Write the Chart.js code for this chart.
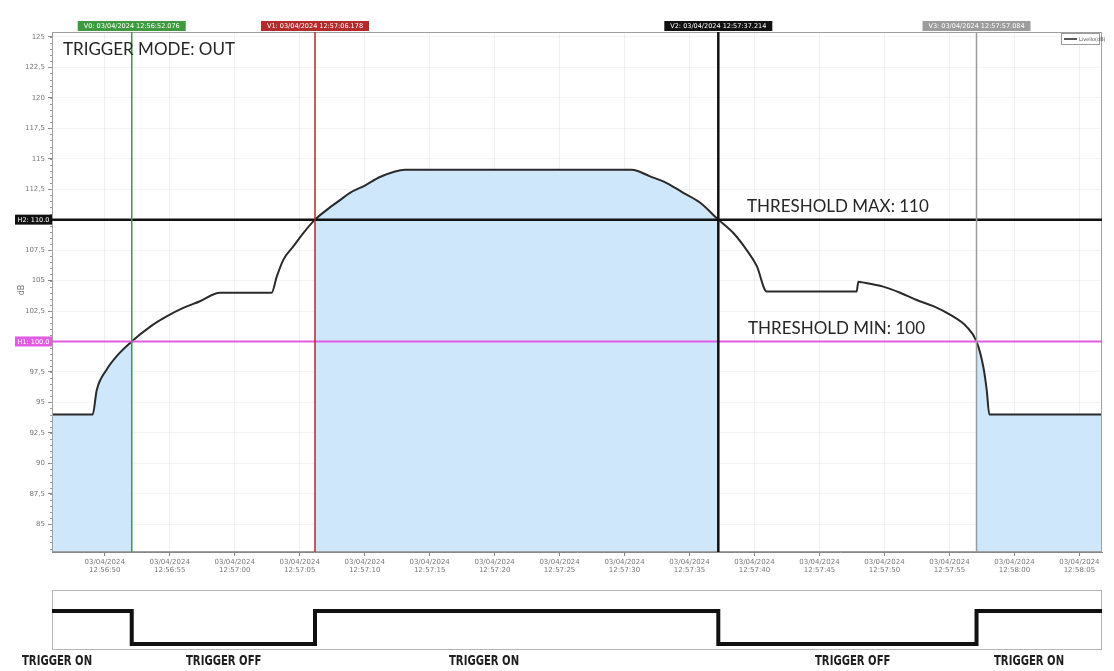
<!DOCTYPE html>
<html><head><meta charset="utf-8">
<script src="https://cdn.jsdelivr.net/npm/chart.js@4.4.1/dist/chart.umd.min.js"></script>
<style>
html,body{margin:0;padding:0;background:#fff;width:1114px;height:671px;overflow:hidden}
canvas{position:absolute;left:0}
#main{top:0}
#trig{top:585px}
</style></head><body>
<canvas id="main" width="1114" height="585"></canvas>
<canvas id="trig" width="1114" height="86"></canvas>
<script>
// ---------- data ----------
const dateLabel = '03/04/2024';
const xTickSeconds = [0,5,10,15,20,25,30,35,40,45,50,55,60,65,70,75];
const xTickTimes = ['12:56:50','12:56:55','12:57:00','12:57:05','12:57:10','12:57:15','12:57:20','12:57:25','12:57:30','12:57:35','12:57:40','12:57:45','12:57:50','12:57:55','12:58:00','12:58:05'];
const yTickValues = [85,87.5,90,92.5,95,97.5,102.5,105,107.5,112.5,115,117.5,120,122.5,125];
const xRange = [-4.06, 76.74];
const yRange = [82.72, 125.4];

const curveTime  = [-4.06,-0.93,-0.62,0.15,0.92,2.076,3.48,4.76,6.04,7.33,8.86,12.84,13.23,13.74,14.51,15.28,16.178,17.08,18.1,18.87,20.02,21.18,23.1,40.55,41.96,43.24,44.52,45.8,47.214,48.37,49.4,50.17,50.94,57.86,57.99,58.3,59.91,61.2,62.48,63.76,65.04,66.33,67.084,67.61,67.87,68.07,76.74];
const curveLevel = [94,94,96,97.7,98.8,100,101.2,102.05,102.75,103.3,104,104,105.3,106.7,107.8,108.9,110,110.8,111.6,112.2,112.8,113.5,114.1,114.1,113.55,113,112.2,111.4,110,108.9,107.5,106.2,104.1,104.1,104.9,104.85,104.5,104,103.4,102.9,102.2,101.2,100,97.9,96,94,94];

const cursorNames  = ['V0','V1','V2','V3'];
const cursorTimes  = [2.076,16.178,47.214,67.084];
const cursorStamps = ['12:56:52.076','12:57:06.178','12:57:37.214','12:57:57.084'];

const thresholdNames  = ['H2','H1'];
const thresholdValues = [110,100];
const thresholdTexts  = ['THRESHOLD MAX: 110','THRESHOLD MIN: 100'];

const triggerTimes  = [-4.06,2.076,16.178,47.214,67.084,76.74];
const triggerStates = [1,0,1,0,1,1];
const triggerLabels = ['TRIGGER ON','TRIGGER OFF','TRIGGER ON','TRIGGER OFF','TRIGGER ON'];
const seriesName = 'Livello(dB)';

// ---------- styles ----------
const cursorColors = ['#3f9a3f','#b32b2b','#111111','#9c9c9c'];
const cursorWidths = [1.5,1.5,2.5,1.5];
const thresholdColors = ['#111111','#e25be2'];
const thresholdWidths = [2.5,2];
const fillColor = 'rgb(206,231,250)';
const triggerLabelLeft = [22,186,449,815,994];

// ---------- build ----------
const curvePts = curveTime.map((t,i)=>({x:t,y:curveLevel[i]}));
const onIntervals = [];
for (let i=0;i<triggerTimes.length-1;i++) if (triggerStates[i]===1) onIntervals.push([triggerTimes[i],triggerTimes[i+1]]);
const fillSets = onIntervals.map(([a,b])=>({
  data: curvePts.filter(p=>p.x>=a-1e-9 && p.x<=b+1e-9),
  borderWidth:0, borderColor:'rgba(0,0,0,0)', backgroundColor:fillColor,
  fill:'start', pointRadius:0, cubicInterpolationMode:'monotone', order:2
}));

function fmt(v){ return String(v).replace('.',','); }

const overlay = {
  id:'overlay',
  afterDatasetsDraw(chart){
    const {ctx, chartArea:a, scales:{x,y}} = chart;
    ctx.save();
    ctx.strokeStyle='#a0a0a0'; ctx.lineWidth=1;
    ctx.strokeRect(a.left+0.5,a.top+0.5,a.right-a.left-1,a.bottom-a.top-1);
    ctx.strokeStyle='#999'; ctx.lineWidth=1;
    for (let v=Math.ceil(yRange[0]*2)/2; v<=yRange[1]; v+=0.5){
      const py=Math.round(y.getPixelForValue(v))+0.5;
      ctx.beginPath(); ctx.moveTo(a.left-2,py); ctx.lineTo(a.left,py); ctx.stroke();
    }
    thresholdValues.forEach((v,i)=>{
      const py=y.getPixelForValue(v);
      ctx.strokeStyle=thresholdColors[i]; ctx.lineWidth=thresholdWidths[i];
      ctx.beginPath(); ctx.moveTo(a.left,py); ctx.lineTo(a.right,py); ctx.stroke();
      ctx.fillStyle=thresholdColors[i];
      ctx.fillRect(15,py-5,37,10);
      ctx.fillStyle='#fff'; ctx.font='6.5px "DejaVu Sans"'; ctx.textAlign='center'; ctx.textBaseline='middle';
      ctx.fillText(thresholdNames[i]+': '+v.toFixed(1),33.5,py+0.5);
    });
    cursorTimes.forEach((t,i)=>{
      const px=x.getPixelForValue(t);
      ctx.strokeStyle=cursorColors[i]; ctx.lineWidth=cursorWidths[i];
      ctx.beginPath(); ctx.moveTo(px,a.top); ctx.lineTo(px,a.bottom); ctx.stroke();
      ctx.fillStyle=cursorColors[i];
      ctx.fillRect(px-54,21,108,10);
      ctx.fillStyle='#fff'; ctx.font='6.5px "DejaVu Sans"'; ctx.textAlign='center'; ctx.textBaseline='middle';
      ctx.fillText(cursorNames[i]+': '+dateLabel+' '+cursorStamps[i],px,26.5);
    });
    ctx.fillStyle='#262626'; ctx.textAlign='left'; ctx.textBaseline='alphabetic';
    ctx.font='17px Lato';
    ctx.fillText('TRIGGER MODE: OUT',63,55);
    ctx.fillText(thresholdTexts[0],747,212);
    ctx.fillText(thresholdTexts[1],748,334);
    ctx.fillStyle='#fff'; ctx.fillRect(1061,33,39,12);
    ctx.strokeStyle='#999'; ctx.lineWidth=1; ctx.strokeRect(1061.5,33.5,38,11);
    ctx.strokeStyle='#222'; ctx.lineWidth=1.5;
    ctx.beginPath(); ctx.moveTo(1064,39); ctx.lineTo(1077,39); ctx.stroke();
    ctx.fillStyle='#555'; ctx.font='5px "DejaVu Sans"'; ctx.textBaseline='middle';
    ctx.fillText(seriesName,1079,39.5);
    ctx.translate(22,290); ctx.rotate(-Math.PI/2);
    ctx.fillStyle='#777'; ctx.font='8px "DejaVu Sans"'; ctx.textAlign='center';
    ctx.fillText('dB',0,0);
    ctx.restore();
  }
};

new Chart(document.getElementById('main'),{
  type:'line',
  data:{datasets:[
    ...fillSets,
    {label:seriesName,data:curvePts,borderColor:'#2a2a2a',borderWidth:2,pointRadius:0,fill:false,cubicInterpolationMode:'monotone',order:1}
  ]},
  options:{
    responsive:false, animation:false, devicePixelRatio:1,
    layout:{padding:{left:0,right:12,top:32,bottom:0}},
    plugins:{legend:{display:false},tooltip:{enabled:false}},
    scales:{
      x:{type:'linear',min:xRange[0],max:xRange[1],
        afterBuildTicks:s=>{s.ticks=xTickSeconds.map(v=>({value:v}));},
        afterFit:s=>{s.height=33;},
        ticks:{autoSkip:false,maxRotation:0,font:{size:7,family:'"DejaVu Sans"'},color:'#777',padding:2,
          callback:v=>{const i=xTickSeconds.indexOf(v);return i<0?'':[dateLabel,xTickTimes[i]];}},
        grid:{color:'rgba(0,0,0,0.06)',tickColor:'#888',tickLength:4},
        border:{color:'#888'}
      },
      y:{type:'linear',min:yRange[0],max:yRange[1],
        afterBuildTicks:s=>{s.ticks=yTickValues.map(v=>({value:v}));},
        afterFit:s=>{s.width=52;},
        ticks:{autoSkip:false,font:{size:7,family:'"DejaVu Sans"'},color:'#777',padding:3,callback:v=>fmt(v)},
        grid:{color:'rgba(0,0,0,0.045)',tickColor:'#888',tickLength:4},
        border:{color:'#888'}
      }
    }
  },
  plugins:[overlay]
});

const trigOverlay = {
  id:'trigOverlay',
  beforeDatasetsDraw(chart){
    const {ctx, chartArea:a} = chart;
    ctx.save();
    ctx.strokeStyle='#b5b5b5'; ctx.lineWidth=1;
    ctx.strokeRect(a.left+0.5,a.top+0.5,a.right-a.left-1,a.bottom-a.top-1);
    ctx.restore();
  },
  afterDraw(chart){
    const {ctx} = chart;
    ctx.fillStyle='#1e1e1e'; ctx.font='bold 14px "Liberation Sans Narrow", "DejaVu Sans Condensed", sans-serif';
    ctx.textAlign='left'; ctx.textBaseline='middle';
    triggerLabels.forEach((l,i)=>{
      ctx.save();
      ctx.translate(triggerLabelLeft[i],76);
      ctx.scale(0.8,1);
      ctx.fillText(l,0,0);
      ctx.restore();
    });
  }
};

new Chart(document.getElementById('trig'),{
  type:'line',
  data:{datasets:[{data:triggerTimes.map((t,i)=>({x:t,y:triggerStates[i]})),stepped:'before',borderColor:'#111',borderWidth:4,pointRadius:0,fill:false}]},
  options:{
    responsive:false, animation:false, devicePixelRatio:1,
    layout:{padding:{left:52,right:12,top:5,bottom:21}},
    plugins:{legend:{display:false},tooltip:{enabled:false}},
    scales:{
      x:{type:'linear',display:false,min:xRange[0],max:xRange[1]},
      y:{type:'linear',display:false,min:-0.18,max:1.64}
    }
  },
  plugins:[trigOverlay]
});
</script>
</body></html>
